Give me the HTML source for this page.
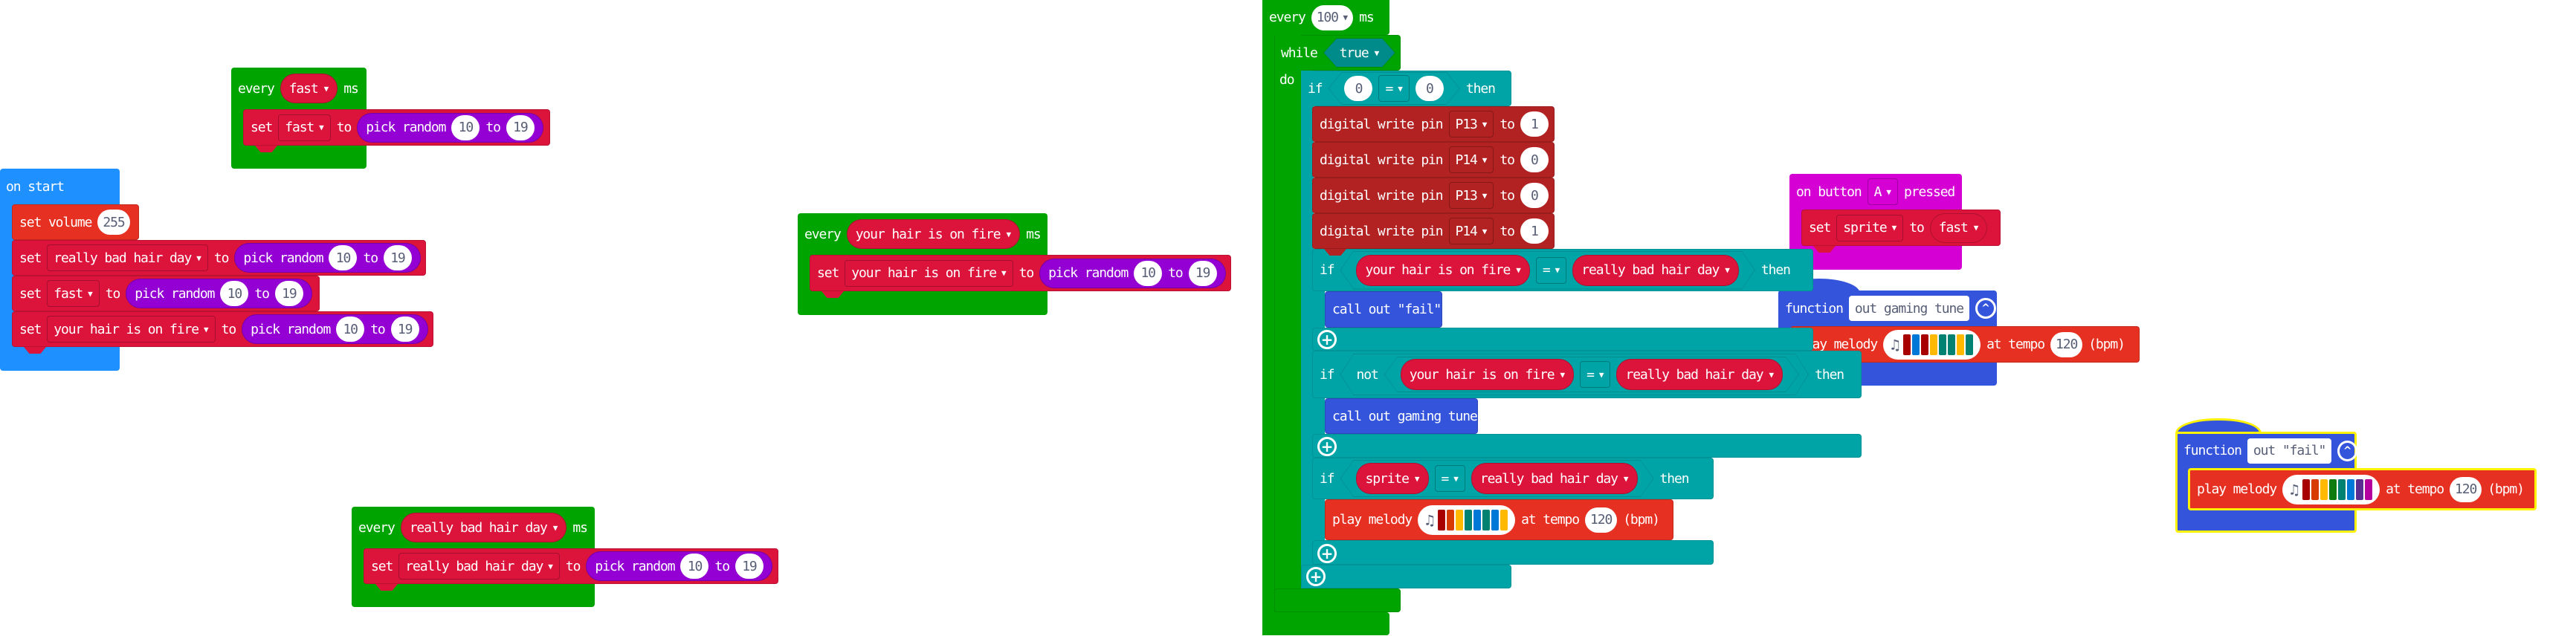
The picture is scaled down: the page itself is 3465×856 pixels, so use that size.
<!DOCTYPE html>
<html><head><meta charset="utf-8"><style>
body{margin:0;width:3465px;height:856px;background:#fff;position:relative;overflow:hidden;font-family:"DejaVu Sans Mono","Liberation Mono",monospace}
.r{position:absolute;border-radius:4px}
.b{position:absolute;display:flex;align-items:center;gap:8px;padding-left:9px;box-sizing:border-box;color:#fff;font-size:18px;letter-spacing:-1.1px;white-space:nowrap;border-radius:4px;border:1px solid rgba(0,0,0,.15)}
.dd{border:1px solid rgba(0,0,0,.25);border-radius:4px;height:34px;padding:0 8px;display:flex;align-items:center;gap:7px}
.pill{border-radius:20px;height:38px;padding:0 11px;display:flex;align-items:center;gap:8px;border:1px solid rgba(0,0,0,.2);color:#fff}
.num{background:#fff;color:#575E75;border-radius:18px;height:34px;min-width:24px;padding:0 7px;justify-content:center;display:flex;align-items:center}
.ar{font-size:11px;letter-spacing:0}
.red{background:#DC143C}
.pur{background:#9400D3}
.hex{height:46px;background:rgba(0,0,0,.13);clip-path:polygon(18px 0,calc(100% - 18px) 0,100% 50%,calc(100% - 18px) 100%,18px 100%,0 50%);padding:1px;box-sizing:border-box;display:flex}
.hexin{flex:1;background:#00A4A6;clip-path:polygon(17px 0,calc(100% - 17px) 0,100% 50%,calc(100% - 17px) 100%,17px 100%,0 50%);display:flex;align-items:center;gap:8px;padding:0 21px}
.mel{background:#fff;border-radius:21px;height:40px;padding:0 10px;display:flex;align-items:center;gap:2px}
.mel .n{color:#575E75;font-size:20px;margin-right:4px}
.mel i{display:inline-block;width:10px;height:28px;border-radius:2px}
.plus{position:absolute;width:20px;height:20px;border:3px solid #fff;border-radius:50%;color:#fff;font:bold 20px/20px "DejaVu Sans",sans-serif;text-align:center}
.fn{background:#fff;color:#575E75;border-radius:4px;height:34px;padding:0 8px;display:flex;align-items:center}
.col{width:22px;height:22px;border:3px solid #fff;border-radius:50%;display:flex;align-items:center;justify-content:center;font:bold 14px "DejaVu Sans",sans-serif;letter-spacing:0}
.tab{position:absolute;width:30px;height:9px;clip-path:polygon(0 0,100% 0,75% 100%,25% 100%)}
</style></head><body>

<!-- every fast -->
<div class="r" style="left:311px;top:91px;width:182px;height:136px;background:#00A400"></div>
<div class="b" style="left:311px;top:91px;width:182px;height:56px;border:none;background:transparent">every<span class="pill red">fast <span class="ar">▼</span></span>ms</div>
<div class="b red" style="left:327px;top:147px;width:413px;height:49px">set<span class="dd">fast <span class="ar">▼</span></span>to<span class="pill pur">pick random<span class="num">10</span>to<span class="num">19</span></span></div>
<div class="tab" style="left:343px;top:196px;background:#DC143C"></div>

<!-- on start -->
<div class="r" style="left:0;top:227px;width:161px;height:272px;background:#1E90FF"></div>
<div class="b" style="left:0;top:227px;width:161px;height:48px;border:none;background:transparent;padding-left:8px">on start</div>
<div class="b" style="left:16px;top:275px;width:171px;height:48px;background:#E63022">set volume<span class="num">255</span></div>
<div class="b red" style="left:16px;top:323px;width:557px;height:48px">set<span class="dd">really bad hair day <span class="ar">▼</span></span>to<span class="pill pur">pick random<span class="num">10</span>to<span class="num">19</span></span></div>
<div class="b red" style="left:16px;top:371px;width:414px;height:48px">set<span class="dd">fast <span class="ar">▼</span></span>to<span class="pill pur">pick random<span class="num">10</span>to<span class="num">19</span></span></div>
<div class="b red" style="left:16px;top:419px;width:567px;height:48px">set<span class="dd">your hair is on fire <span class="ar">▼</span></span>to<span class="pill pur">pick random<span class="num">10</span>to<span class="num">19</span></span></div>
<div class="tab" style="left:32px;top:467px;background:#DC143C"></div>

<!-- every your hair -->
<div class="r" style="left:1073px;top:287px;width:336px;height:137px;background:#00A400"></div>
<div class="b" style="left:1073px;top:287px;width:336px;height:56px;border:none;background:transparent">every<span class="pill red">your hair is on fire <span class="ar">▼</span></span>ms</div>
<div class="b red" style="left:1089px;top:343px;width:567px;height:49px">set<span class="dd">your hair is on fire <span class="ar">▼</span></span>to<span class="pill pur">pick random<span class="num">10</span>to<span class="num">19</span></span></div>
<div class="tab" style="left:1105px;top:392px;background:#DC143C"></div>

<!-- every really bad hair day -->
<div class="r" style="left:473px;top:682px;width:327px;height:135px;background:#00A400"></div>
<div class="b" style="left:473px;top:682px;width:327px;height:56px;border:none;background:transparent">every<span class="pill red">really bad hair day <span class="ar">▼</span></span>ms</div>
<div class="b red" style="left:489px;top:738px;width:558px;height:48px">set<span class="dd">really bad hair day <span class="ar">▼</span></span>to<span class="pill pur">pick random<span class="num">10</span>to<span class="num">19</span></span></div>
<div class="tab" style="left:505px;top:786px;background:#DC143C"></div>

<!-- on button A -->
<div class="r" style="left:2407px;top:234px;width:232px;height:129px;background:#D400D4"></div>
<div class="b" style="left:2407px;top:234px;width:232px;height:48px;border:none;background:transparent">on button<span class="dd">A <span class="ar">▼</span></span>pressed</div>
<div class="b red" style="left:2423px;top:282px;width:268px;height:49px">set<span class="dd">sprite <span class="ar">▼</span></span>to<span class="pill red">fast <span class="ar">▼</span></span></div>
<div class="tab" style="left:2439px;top:331px;background:#DC143C"></div>

<!-- function out gaming tune -->
<div class="r" style="left:2392px;top:375px;width:110px;height:40px;background:#3455DB;border-radius:55px 55px 0 0/20px 20px 0 0"></div>
<div class="r" style="left:2392px;top:391px;width:294px;height:128px;background:#3455DB"></div>
<div class="b" style="left:2392px;top:391px;width:294px;height:48px;border:none;background:transparent">function<span class="fn">out gaming tune</span><span class="col">^</span></div>
<div class="b" style="left:2408px;top:439px;width:470px;height:49px;background:#E63022">play melody<span class="mel"><span class="n">♫</span><i style="background:#A80000"></i><i style="background:#0078D7"></i><i style="background:#A80000"></i><i style="background:#FFB900"></i><i style="background:#008272"></i><i style="background:#008272"></i><i style="background:#FFB900"></i><i style="background:#008272"></i></span>at tempo<span class="num">120</span>(bpm)</div>

<!-- function out "fail" -->
<div class="r" style="left:2926px;top:563px;width:110px;height:40px;background:#3455DB;border:3px solid #FFF200;border-bottom:none;border-radius:55px 55px 0 0/20px 20px 0 0"></div>
<div class="r" style="left:2926px;top:581px;width:244px;height:136px;background:#3455DB;border:3px solid #FFF200;box-sizing:border-box"></div>
<div class="r" style="left:2929px;top:584px;width:106px;height:20px;background:#3455DB"></div>
<div class="b" style="left:2928px;top:583px;width:243px;height:47px;border:none;background:transparent">function<span class="fn">out "fail"</span><span class="col">^</span></div>
<div class="b" style="left:2943px;top:630px;width:469px;height:57px;background:#E63022;border:3px solid #FFF200">play melody<span class="mel"><span class="n">♫</span><i style="background:#A80000"></i><i style="background:#D83B01"></i><i style="background:#FFB900"></i><i style="background:#107C10"></i><i style="background:#008272"></i><i style="background:#0078D7"></i><i style="background:#5C2D91"></i><i style="background:#B4009E"></i></span>at tempo<span class="num">120</span>(bpm)</div>

<!-- big every 100 -->
<div class="r" style="left:1698px;top:0;width:171px;height:47px;background:#00A400;border-radius:0 0 4px 0"></div>
<div class="r" style="left:1698px;top:0;width:20px;height:855px;background:#00A400;border-radius:0"></div>
<div class="r" style="left:1698px;top:824px;width:171px;height:31px;background:#00A400"></div>
<div class="b" style="left:1698px;top:0;width:171px;height:47px;border:none;background:transparent">every<span class="num">100 <span class="ar">&nbsp;▼</span></span>ms</div>

<div class="r" style="left:1714px;top:47px;width:170px;height:48px;background:#00A400;border:1px solid rgba(0,0,0,.12);box-sizing:border-box"></div>
<div class="r" style="left:1714px;top:47px;width:36px;height:777px;background:#00A400;border-left:1px solid rgba(0,0,0,.12);box-sizing:border-box;border-radius:0"></div>
<div class="r" style="left:1714px;top:792px;width:170px;height:32px;background:#00A400;border:1px solid rgba(0,0,0,.12);box-sizing:border-box"></div>
<div class="b" style="left:1714px;top:47px;width:170px;height:48px;border:none;background:transparent">while<span class="hex" style="background:rgba(0,0,0,.15);height:40px"><span class="hexin" style="background:#008B8B">true <span class="ar">▼</span></span></span></div>
<div style="position:absolute;left:1721px;top:97px;color:#fff;font-size:18px;letter-spacing:-1.1px">do</div>

<!-- if1 -->
<div class="r" style="left:1750px;top:95px;width:283px;height:48px;background:#00A4A6;border:1px solid rgba(0,0,0,.1);box-sizing:border-box"></div>
<div class="r" style="left:1750px;top:95px;width:17px;height:697px;background:#00A4A6;border-radius:0"></div>
<div class="r" style="left:1750px;top:760px;width:283px;height:32px;background:#00A4A6;border:1px solid rgba(0,0,0,.1);box-sizing:border-box"></div>
<div class="b" style="left:1750px;top:95px;width:283px;height:48px;border:none;background:transparent">if<span class="hex" style="height:44px"><span class="hexin"><span class="num">0</span><span class="dd">= <span class="ar">▼</span></span><span class="num">0</span></span></span>then</div>
<div class="plus" style="left:1757px;top:763px">+</div>

<div class="b" style="left:1765px;top:143px;width:326px;height:48px;background:#B22222">digital write pin<span class="dd">P13 <span class="ar">▼</span></span>to<span class="num">1</span></div>
<div class="b" style="left:1765px;top:191px;width:326px;height:48px;background:#B22222">digital write pin<span class="dd">P14 <span class="ar">▼</span></span>to<span class="num">0</span></div>
<div class="b" style="left:1765px;top:239px;width:326px;height:48px;background:#B22222">digital write pin<span class="dd">P13 <span class="ar">▼</span></span>to<span class="num">0</span></div>
<div class="b" style="left:1765px;top:287px;width:326px;height:48px;background:#B22222">digital write pin<span class="dd">P14 <span class="ar">▼</span></span>to<span class="num">1</span></div>

<!-- if2 -->
<div class="r" style="left:1765px;top:335px;width:17px;height:137px;background:#00A4A6;border-radius:0"></div>
<div class="r" style="left:1765px;top:441px;width:674px;height:31px;background:#00A4A6;border:1px solid rgba(0,0,0,.1);box-sizing:border-box"></div>
<div class="b" style="left:1765px;top:335px;width:674px;height:57px;background:#00A4A6;border-color:rgba(0,0,0,.1)">if<span class="hex" style="height:52px"><span class="hexin"><span class="pill red" style="height:40px">your hair is on fire <span class="ar">▼</span></span><span class="dd">= <span class="ar">▼</span></span><span class="pill red" style="height:40px">really bad hair day <span class="ar">▼</span></span></span></span>then</div>
<div class="tab" style="left:1781px;top:335px;background:#B22222"></div>
<div class="b" style="left:1782px;top:392px;width:158px;height:49px;background:#3455DB">call out "fail"</div>
<div class="plus" style="left:1772px;top:444px">+</div>

<!-- if3 -->
<div class="r" style="left:1765px;top:472px;width:17px;height:144px;background:#00A4A6;border-radius:0"></div>
<div class="r" style="left:1765px;top:584px;width:739px;height:32px;background:#00A4A6;border:1px solid rgba(0,0,0,.1);box-sizing:border-box"></div>
<div class="b" style="left:1765px;top:472px;width:739px;height:64px;background:#00A4A6;border-color:rgba(0,0,0,.1)">if<span class="hex" style="height:56px"><span class="hexin" style="padding:0 12px 0 21px">not<span class="hex" style="height:48px"><span class="hexin"><span class="pill red" style="height:40px">your hair is on fire <span class="ar">▼</span></span><span class="dd">= <span class="ar">▼</span></span><span class="pill red" style="height:40px">really bad hair day <span class="ar">▼</span></span></span></span></span></span>then</div>
<div class="b" style="left:1782px;top:536px;width:206px;height:48px;background:#3455DB">call out gaming tune</div>
<div class="plus" style="left:1772px;top:588px">+</div>

<!-- if4 -->
<div class="r" style="left:1765px;top:616px;width:17px;height:144px;background:#00A4A6;border-radius:0"></div>
<div class="r" style="left:1765px;top:727px;width:540px;height:33px;background:#00A4A6;border:1px solid rgba(0,0,0,.1);box-sizing:border-box"></div>
<div class="b" style="left:1765px;top:616px;width:540px;height:56px;background:#00A4A6;border-color:rgba(0,0,0,.1)">if<span class="hex" style="height:50px"><span class="hexin"><span class="pill red" style="height:40px">sprite <span class="ar">▼</span></span><span class="dd">= <span class="ar">▼</span></span><span class="pill red" style="height:40px">really bad hair day <span class="ar">▼</span></span></span></span>then</div>
<div class="b" style="left:1782px;top:672px;width:469px;height:55px;background:#E63022">play melody<span class="mel"><span class="n">♫</span><i style="background:#A80000"></i><i style="background:#D83B01"></i><i style="background:#FFB900"></i><i style="background:#008272"></i><i style="background:#0078D7"></i><i style="background:#008272"></i><i style="background:#0078D7"></i><i style="background:#FFB900"></i></span>at tempo<span class="num">120</span>(bpm)</div>
<div class="plus" style="left:1772px;top:732px">+</div>

</body></html>
